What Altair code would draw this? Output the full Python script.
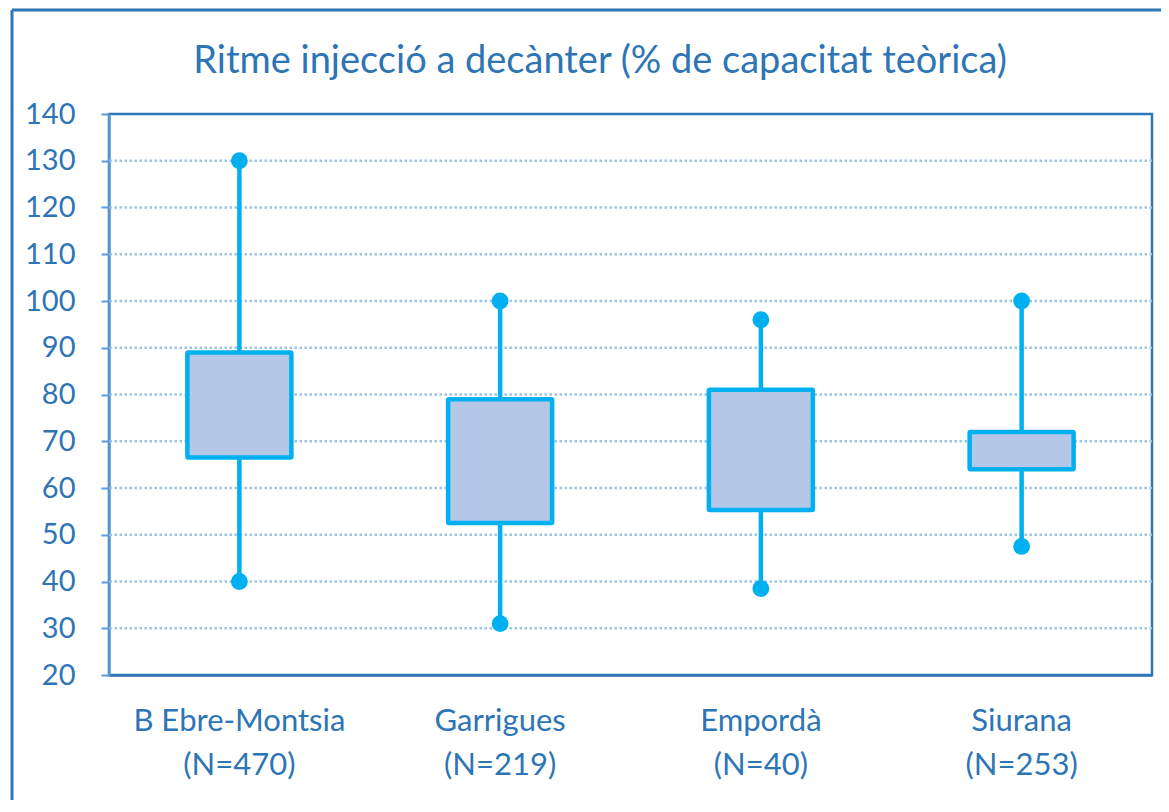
import altair as alt
import pandas as pd

categories = ["B Ebre-Montsia", "Garrigues", "Empordà", "Siurana"]
counts = [470, 219, 40, 253]
mins = [40, 31, 38.5, 47.5]
q1s = [66.5, 52.5, 55.3, 64]
q3s = [89, 79, 81, 72]
maxs = [130, 100, 96, 100]
y_ticks = list(range(20, 145, 5))
grid_vals = list(range(30, 140, 10))
title_text = "Ritme injecció a decànter (% de capacitat teòrica)"

W, H = 1043, 561
FONT = "Lato"
TEXT = "#2E75B6"
DARK = "#2E75B6"
LIGHT = "#5B9BD5"
CYAN = "#00B0F0"

labels = [f"{c}\n(N={n})" for c, n in zip(categories, counts)]
df = pd.DataFrame({"label": labels, "min": mins, "q1": q1s, "q3": q3s, "max": maxs})
dots = pd.DataFrame({"label": labels + labels, "v": mins + maxs})
grid_df = pd.DataFrame({"g": grid_vals})
one = pd.DataFrame({"a": [0]})
title_df = pd.DataFrame({"t": [title_text]})

xenc = alt.X("label:N", sort=labels, title=None,
             axis=alt.Axis(labelExpr="split(datum.label, '\\n')", ticks=False,
                           labelFontSize=31, labelFont=FONT, labelColor=TEXT,
                           labelLineHeight=44, labelPadding=31, labelAngle=0,
                           labelLimit=500, domainColor=DARK, domainWidth=2.5))
yscale = alt.Scale(domain=[20, 140], nice=False, zero=False)
yax = alt.Axis(values=y_ticks, labelExpr="datum.value % 10 == 0 ? datum.label : ''",
               grid=False, tickSize=8, tickColor=LIGHT, tickWidth=2,
               domainColor=LIGHT, domainWidth=2.5, labelFontSize=29, labelFont=FONT,
               labelColor=TEXT, labelPadding=26, title=None)

grid = alt.Chart(grid_df).mark_rule(color="#9DC3E6", strokeWidth=2.5, strokeDash=[2.5, 2.5]).encode(
    y=alt.Y("g:Q", scale=yscale, axis=yax))

whisk_lo = alt.Chart(df).mark_rule(color=CYAN, strokeWidth=4.5).encode(
    x=xenc, y=alt.Y("min:Q", scale=yscale), y2="q1:Q")
whisk_hi = alt.Chart(df).mark_rule(color=CYAN, strokeWidth=4.5).encode(
    x=xenc, y=alt.Y("q3:Q", scale=yscale), y2="max:Q")
box = alt.Chart(df).mark_bar(size=104, fill="#B4C7E7", stroke=CYAN, strokeWidth=4.5,
                             cornerRadius=1).encode(
    x=xenc, y=alt.Y("q1:Q", scale=yscale), y2="q3:Q")
pts = alt.Chart(dots).mark_circle(size=283, color=CYAN, opacity=1).encode(
    x=xenc, y=alt.Y("v:Q", scale=yscale))

frame_left = alt.Chart(one).mark_rule(color=DARK, strokeWidth=3).encode(
    x=alt.value(-97), y=alt.value(-104), y2=alt.value(H + 300))
frame_top = alt.Chart(one).mark_rule(color=DARK, strokeWidth=3).encode(
    x=alt.value(-97), x2=alt.value(W + 300), y=alt.value(-104))

title = alt.Chart(title_df).mark_text(font=FONT, fontSize=38, color=TEXT, align="center",
                                      baseline="middle").encode(
    text="t:N", x=alt.value(491), y=alt.value(-52))

chart = alt.layer(grid, whisk_lo, whisk_hi, box, pts, frame_left, frame_top, title).properties(
    width=W, height=H,
    padding={"left": 101, "top": 106, "right": 9, "bottom": 125},
    autosize=alt.AutoSizeParams(type="none"),
).configure_view(stroke=DARK, strokeWidth=2.5).resolve_scale(x="shared")

chart.save("out.html", embed_options={"renderer": "svg", "actions": False})
